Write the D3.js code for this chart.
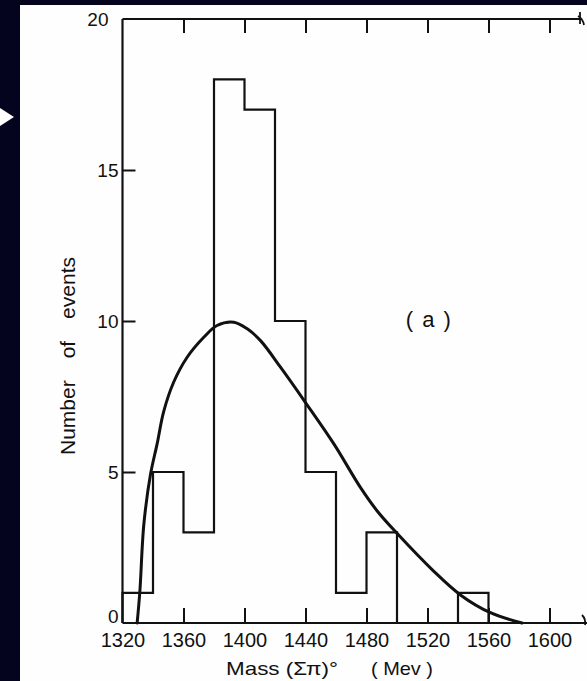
<!DOCTYPE html>
<html>
<head>
<meta charset="utf-8">
<script src="https://cdn.jsdelivr.net/npm/d3@7"></script>
<style>
  html, body { margin: 0; padding: 0; background: #04041f; }
  svg { display: block; }
  text { font-family: "Liberation Sans", "DejaVu Sans", sans-serif; fill: #111; }
</style>
</head>
<body>
<svg id="chart" width="587" height="681"></svg>
<script>
// Histogram of (Σπ)° invariant mass, 20 MeV bins
const binStarts = [1320, 1340, 1360, 1380, 1400, 1420, 1440, 1460, 1480, 1500, 1520, 1540];
const binCounts = [1, 5, 3, 18, 17, 10, 5, 1, 3, 0, 0, 1];
const binWidth = 20;

// Smooth phase-space curve sampled along the mass axis
const curveMass  = [1329.6, 1331.4, 1334, 1338.4, 1342.7, 1347, 1353.6, 1362.4, 1373.3, 1382, 1393, 1401.8, 1410.5, 1423.6, 1440, 1458.6, 1476, 1487, 1500, 1524, 1541.6, 1561.3, 1582];
const curveCount = [0, 1.06, 3.27, 4.93, 5.93, 7.0, 7.98, 8.8, 9.46, 9.85, 9.96, 9.74, 9.35, 8.47, 7.3, 5.93, 4.49, 3.71, 2.97, 1.72, 0.93, 0.34, 0];

// Axis ticks and labels
const xTickValues = [1320, 1360, 1400, 1440, 1480, 1520, 1560, 1600];
const yTickValues = [0, 5, 10, 15, 20];
const xTitle = "Mass (Σπ)°";
const xUnit = "( Mev )";
const yTitleWords = ["Number", "of", "events"];
const panelTag = "( a )";

const svg = d3.select("#chart");
const ink = "#111";

// paper panel
svg.append("rect").attr("x", 20).attr("y", 5).attr("width", 567).attr("height", 676).attr("fill", "#fefefe");

// pointer arrow at the left edge
svg.append("path").attr("d", "M0,108 L14,117 L0,126 Z").attr("fill", "#fff");

const x = d3.scaleLinear().domain([1320, 1620]).range([122.5, 580]);
const y = d3.scaleLinear().domain([0, 20]).range([623, 19]);

const g = svg.append("g");

// frame lines: left, bottom, top
g.append("line").attr("x1", x(1320)).attr("x2", x(1320)).attr("y1", y(0)).attr("y2", y(20))
  .attr("stroke", ink).attr("stroke-width", 2.2);
g.append("line").attr("x1", x(1320)).attr("x2", 587).attr("y1", y(0)).attr("y2", y(0))
  .attr("stroke", ink).attr("stroke-width", 2.2);
g.append("line").attr("x1", x(1320)).attr("x2", x(1620)).attr("y1", y(20)).attr("y2", y(20))
  .attr("stroke", ink).attr("stroke-width", 2.2);
// small marks where the frame is cut at the right
g.append("path").attr("d", `M${x(1620)},${y(20) - 7} L${x(1620)},${y(20) + 5} M${x(1620) - 2},${y(20) - 3} q5,3 6,9`)
  .attr("fill", "none").attr("stroke", ink).attr("stroke-width", 1.8);
g.append("path").attr("d", `M${x(1620) + 2},${y(0) - 8} q4,4 3,10`)
  .attr("fill", "none").attr("stroke", ink).attr("stroke-width", 1.8);

// bottom axis: inward ticks + labels
const xAxisB = d3.axisBottom(x).tickValues(xTickValues).tickSizeInner(-15).tickSizeOuter(0).tickPadding(24).tickFormat(d3.format("d"));
const gb = g.append("g").attr("transform", `translate(0,${y(0)})`).call(xAxisB);
gb.select(".domain").remove();
gb.selectAll(".tick line").attr("stroke", ink).attr("stroke-width", 2);
gb.selectAll(".tick").filter(d => d === 1320).select("line").remove();
gb.selectAll(".tick text").attr("font-size", 20).attr("fill", ink).attr("dy", 0).attr("y", 24);

// top axis: inward ticks only
const xAxisT = d3.axisTop(x).tickValues(xTickValues.slice(1)).tickSizeInner(-14).tickSizeOuter(0).tickFormat("");
const gt = g.append("g").attr("transform", `translate(0,${y(20)})`).call(xAxisT);
gt.select(".domain").remove();
gt.selectAll(".tick line").attr("stroke", ink).attr("stroke-width", 2);

// left axis: inward ticks + labels
const yAxis = d3.axisLeft(y).tickValues(yTickValues).tickSizeInner(-13).tickSizeOuter(0).tickPadding(18).tickFormat(d3.format("d"));
const gl = g.append("g").attr("transform", `translate(${x(1320)},0)`).call(yAxis);
gl.select(".domain").remove();
gl.selectAll(".tick line").attr("stroke", ink).attr("stroke-width", 2);
gl.selectAll(".tick").filter(d => d === 0 || d === 20).select("line").remove();
gl.selectAll(".tick text").attr("font-size", 19).attr("fill", ink)
  .attr("x", d => d === 20 ? -14 : -4)
  .attr("dy", d => d === 0 ? "-0.05em" : "0.36em");

// histogram outline
let step = `M${x(binStarts[0])},${y(0)}`;
binStarts.forEach((s, i) => {
  step += ` V${y(binCounts[i])} H${x(s + binWidth)}`;
});
step += ` V${y(0)}`;
g.append("path").attr("d", step).attr("fill", "none").attr("stroke", ink).attr("stroke-width", 2.2)
  .attr("stroke-linejoin", "miter");

// smooth curve
const pts = curveMass.map((m, i) => [m, curveCount[i]]);
const line = d3.line().x(d => x(d[0])).y(d => y(d[1])).curve(d3.curveCatmullRom.alpha(0.5));
g.append("path").attr("d", line(pts)).attr("fill", "none").attr("stroke", ink).attr("stroke-width", 3)
  .attr("stroke-linecap", "round");

// panel tag
svg.append("text").attr("x", 429).attr("y", 327).attr("text-anchor", "middle")
  .attr("font-size", 22).attr("letter-spacing", 1.5).attr("xml:space", "preserve").text(panelTag);

// axis titles
svg.append("text").attr("x", 226).attr("y", 675).attr("font-size", 19)
  .attr("textLength", 112).attr("lengthAdjust", "spacingAndGlyphs").text(xTitle);
svg.append("text").attr("x", 371).attr("y", 675).attr("font-size", 19).attr("xml:space", "preserve")
  .attr("textLength", 62).attr("lengthAdjust", "spacingAndGlyphs").text(xUnit);

// vertical title: words spread over a fixed span with wide gaps
const yt = svg.append("text").attr("transform", "translate(75,356) rotate(-90)").attr("text-anchor", "middle")
  .attr("font-size", 21).attr("xml:space", "preserve").text(yTitleWords.join(" "));
const natural = yt.node().getComputedTextLength();
yt.attr("word-spacing", Math.max(0, (198 - natural) / (yTitleWords.length - 1)));
</script>
</body>
</html>
